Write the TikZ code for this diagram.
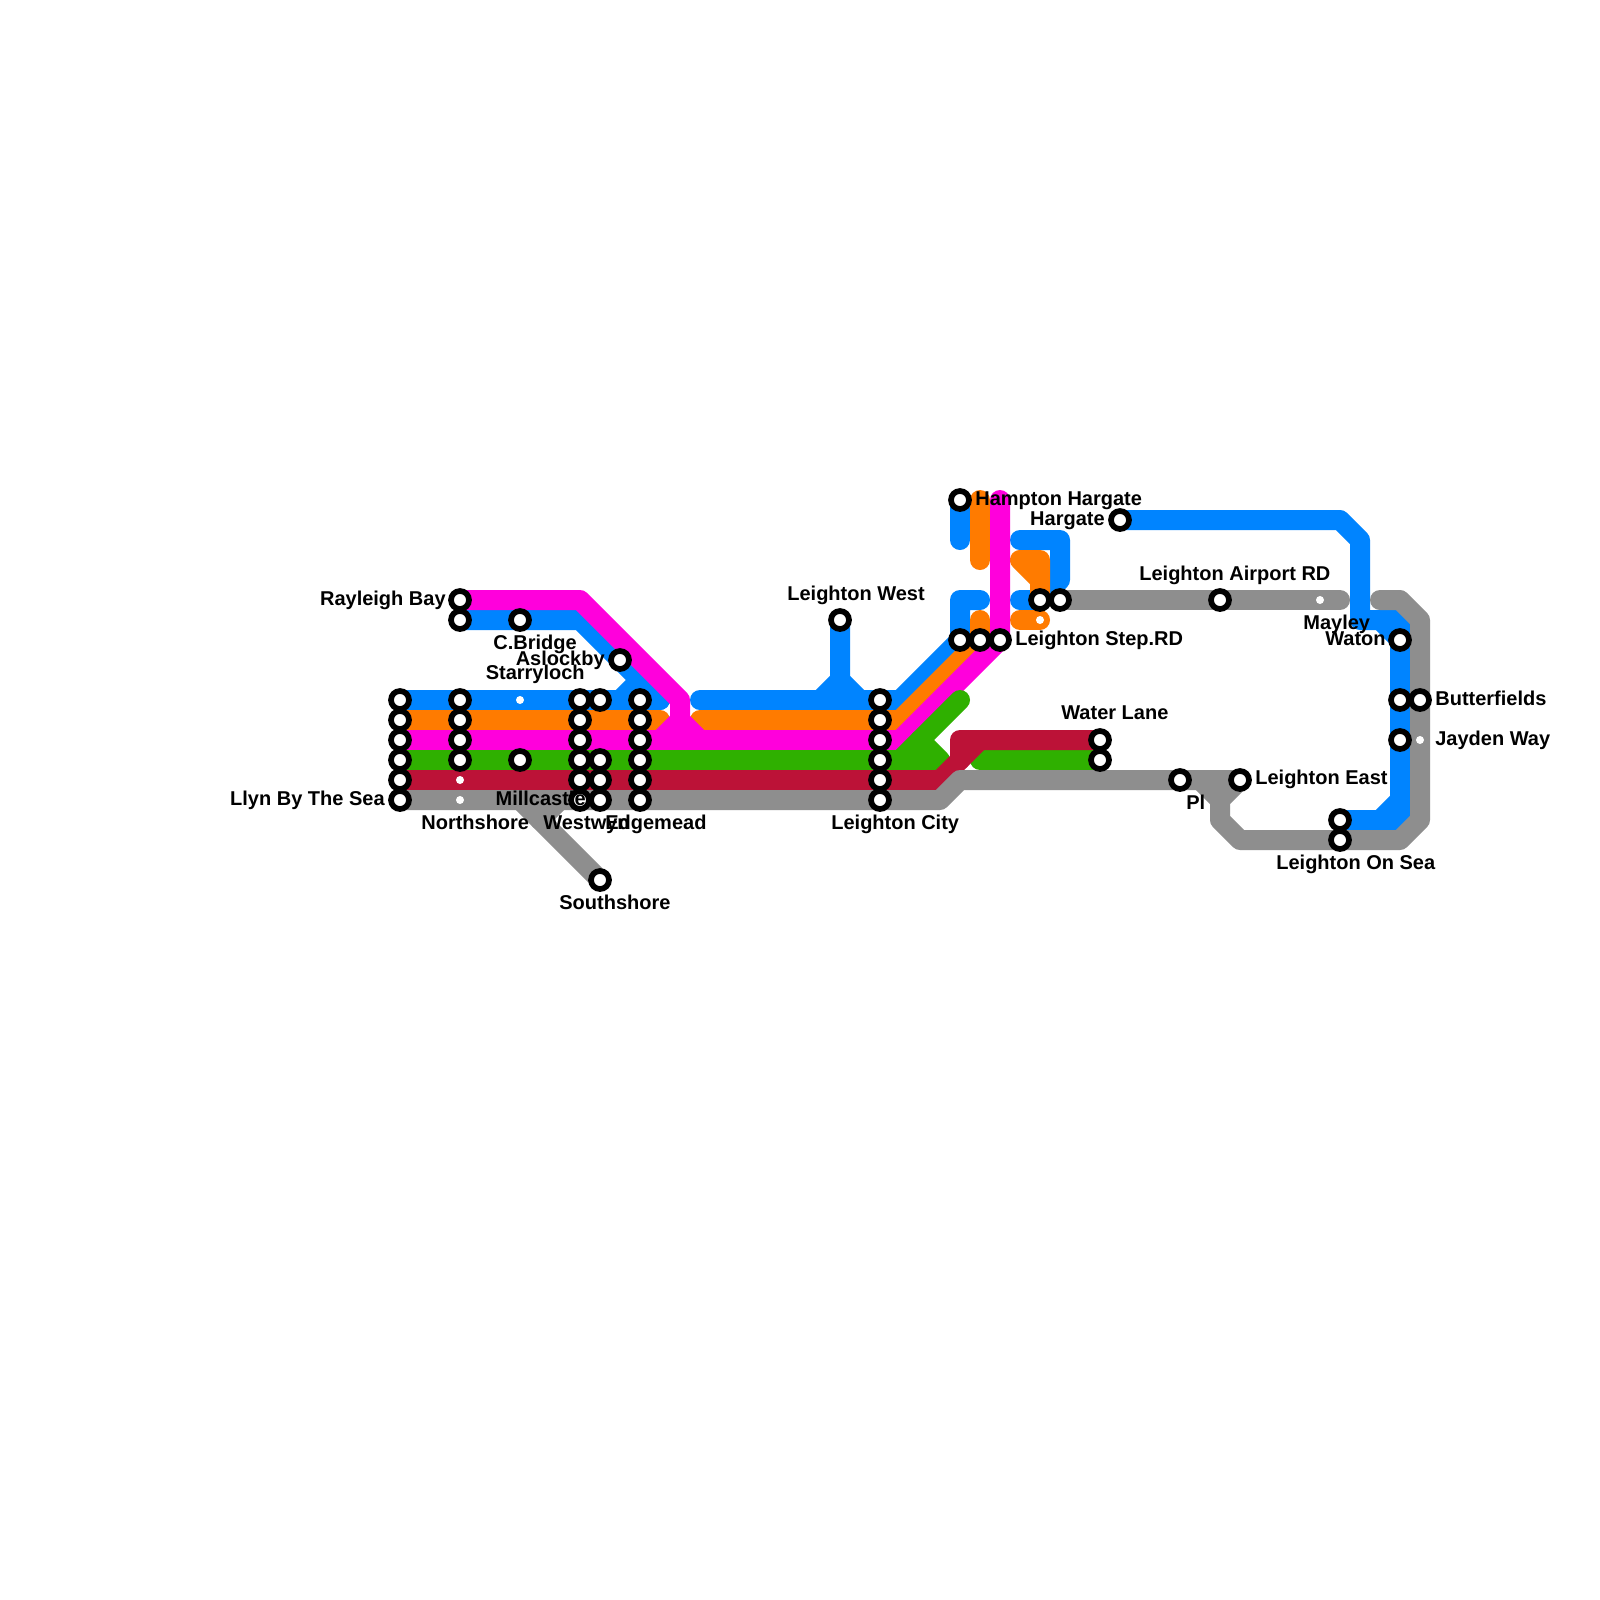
\documentclass[tikz,border=0pt]{standalone}
\usepackage{fontspec}
\setmainfont{Liberation Sans}
\usetikzlibrary{backgrounds}
\definecolor{lblue}{HTML}{0084FF}
\definecolor{lorange}{HTML}{FF7B00}
\definecolor{lmagenta}{HTML}{FF00DC}
\definecolor{lgreen}{HTML}{2FB000}
\definecolor{lred}{HTML}{BC1237}
\definecolor{lgray}{HTML}{8E8E8E}
\tikzset{
  metro/.style={line width=0.4cm,line cap=round,line join=round},
  stn/.style={circle,draw=black,fill=white,line width=0.114cm,minimum size=0.36cm,inner sep=0pt,outer sep=0pt},
  halt/.style={circle,fill=white,minimum size=0.16cm,inner sep=0pt,outer sep=0pt},
  lbl/.style={inner sep=0pt,text=black,font=\fontsize{11.38}{13}\selectfont\bfseries},
  lw/.style={lbl,anchor=base west},
  le/.style={lbl,anchor=base east},
}
\begin{document}
\begin{tikzpicture}[x=0.02cm,y=-0.02cm]
\useasboundingbox (0,0) rectangle (1600,1600);
% stations
\foreach \y in {700,720,740,760,780,800} {
  \node[stn] (A\y) at (400,\y) {};
  \node[stn] (E\y) at (580,\y) {};
  \node[stn] (G\y) at (640,\y) {};
  \node[stn] (L\y) at (880,\y) {};
}
\foreach \y in {700,720,740,760} \node[stn] (B\y) at (460,\y) {};
\foreach \y in {700,760,780,800} \node[stn] (F\y) at (600,\y) {};
\node[halt] (B780) at (460,780) {};
\node[halt] (B800) at (460,800) {};
\node[halt] (C700) at (520,700) {};
\node[stn] (C760) at (520,760) {};
\node[stn] (rayleigh) at (460,600) {};
\node[stn] (rayleighb) at (460,620) {};
\node[stn] (cbridge) at (520,620) {};
\node[stn] (aslockby) at (620,660) {};
\node[stn] (southshore) at (600,880) {};
\node[stn] (lwest) at (840,620) {};
\node[stn] (hampton) at (960,500) {};
\node[stn] (step1) at (960,640) {};
\node[stn] (step2) at (980,640) {};
\node[stn] (step3) at (1000,640) {};
\node[stn] (mid1) at (1040,600) {};
\node[stn] (mid2) at (1060,600) {};
\node[halt] (mid3) at (1040,620) {};
\node[stn] (hargate) at (1120,520) {};
\node[stn] (airport) at (1220,600) {};
\node[halt] (mayley) at (1320,600) {};
\node[stn] (waterA) at (1100,740) {};
\node[stn] (waterB) at (1100,760) {};
\node[stn] (pl) at (1180,780) {};
\node[stn] (least) at (1240,780) {};
\node[stn] (seaA) at (1340,820) {};
\node[stn] (seaB) at (1340,840) {};
\node[stn] (waton) at (1400,640) {};
\node[stn] (bf1) at (1400,700) {};
\node[stn] (bf2) at (1420,700) {};
\node[stn] (jay1) at (1400,740) {};
\node[halt] (jay2) at (1420,740) {};
% lines
\begin{scope}[on background layer]
\fill[white] (0,0) rectangle (1600,1600);
% blue
\draw[metro,lblue] (A700.center) -- (660,700);
\draw[metro,lblue] (rayleighb.center) -- (580,620) -- (aslockby.center) -- (660,700);
\draw[metro,lblue] (620,700) -- (640,680);
\draw[metro,lblue] (700,700) -- (L700.center) -- (900,700) -- (step1.center) -- (960,600) -- (980,600);
\draw[metro,lblue] (lwest.center) -- (840,680) -- (820,700);
\draw[metro,lblue] (840,680) -- (860,700);
\draw[metro,lblue] (hampton.center) -- (960,540);
\draw[metro,lblue] (1020,540) -- (1060,540) -- (1060,580) -- (mid1.center) -- (1020,600);
\draw[metro,lblue] (hargate.center) -- (1340,520) -- (1360,540) -- (1360,620) -- (1380,620) -- (waton.center) -- (1400,800) -- (1380,820) -- (seaA.center);
\draw[metro,lblue] (1380,620) -- (1400,620) -- (waton.center);
\draw[metro,lblue] (1400,800) -- (1400,820) -- (1380,820);
% orange
\draw[metro,lorange] (A720.center) -- (660,720);
\draw[metro,lorange] (700,720) -- (900,720) -- (step2.center) -- (980,620);
\draw[metro,lorange] (980,500) -- (980,560);
\draw[metro,lorange,fill=lorange] (mid1.center) -- (1040,560) -- (1020,560) -- (1040,580);
\draw[metro,lorange] (1020,620) -- (mid3.center);
% magenta
\draw[metro,lmagenta] (A740.center) -- (900,740) -- (step3.center) -- (1000,500);
\draw[metro,lmagenta] (rayleigh.center) -- (580,600) -- (680,700) -- (680,720) -- (660,740);
\draw[metro,lmagenta] (680,720) -- (700,740);
% green
\draw[metro,lgreen] (A760.center) -- (940,760) -- (920,740);
\draw[metro,lgreen] (900,760) -- (960,700);
\draw[metro,lgreen] (980,760) -- (waterB.center);
% red
\draw[metro,lred] (A780.center) -- (940,780) -- (980,740) -- (waterA.center);
\draw[metro,lred] (960,760) -- (960,740) -- (980,740);
% gray
\draw[metro,lgray] (A800.center) -- (940,800) -- (960,780) -- (least.center) -- (1220,800) -- (1220,820) -- (1240,840) -- (1400,840) -- (1420,820) -- (1420,620) -- (1400,600) -- (1380,600);
\draw[metro,lgray] (1200,780) -- (1220,800);
\draw[metro,lgray] (520,800) -- (southshore.center);
\draw[metro,lgray] (560,800) -- (540,820);
\draw[metro,lgray] (mid2.center) -- (1340,600);
\end{scope}
% labels
\node[le] (t1) at (446,605) {Rayleigh Bay};
\node[le] (t2) at (577,649) {C.Bridge};
\node[le] (t3) at (605,665) {Aslockby};
\node[le] (t4) at (585,679) {Starryloch};
\node[le] (t5) at (586,805) {Millcastle};
\node[lw] (t6) at (421,829) {Northshore};
\node[lw] (t7) at (543,829) {Westwyn};
\node[lw] (t8) at (605,829) {Edgemead};
\node[lw] (t9) at (559,909) {Southshore};
\node[le] (t10) at (385,805) {Llyn By The Sea};
\node[lw] (t11) at (787,600) {Leighton West};
\node[lw] (t12) at (831,829) {Leighton City};
\node[lw] (t13) at (975,505) {Hampton Hargate};
\node[le] (t14) at (1105,525) {Hargate};
\node[lw] (t15) at (1015,645) {Leighton Step.RD};
\node[lw] (t16) at (1061,719) {Water Lane};
\node[lw] (t17) at (1139,580) {Leighton Airport RD};
\node[lw] (t18) at (1303,629) {Mayley};
\node[le] (t19) at (1386,645) {Waton};
\node[lw] (t20) at (1435,705) {Butterfields};
\node[lw] (t21) at (1435,745) {Jayden Way};
\node[lw] (t22) at (1255,784) {Leighton East};
\node[lw] (t23) at (1186,809) {Pl};
\node[lw] (t24) at (1276,869) {Leighton On Sea};
\end{tikzpicture}
\end{document}
